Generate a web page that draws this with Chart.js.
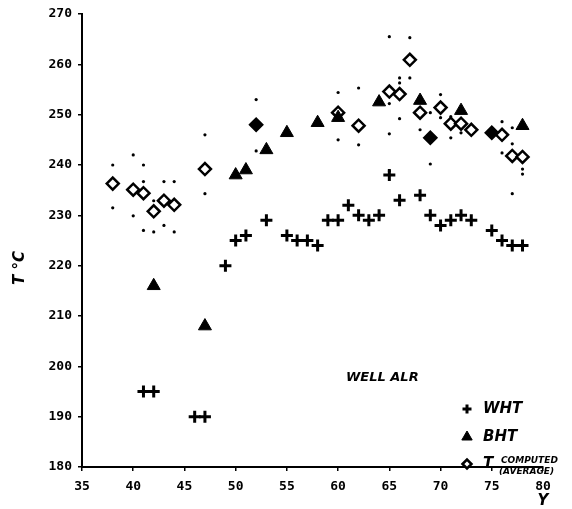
<!DOCTYPE html>
<html>
<head>
<meta charset="utf-8">
<script src="https://cdn.jsdelivr.net/npm/chart.js@4/dist/chart.umd.min.js"></script>
<style>
  body { margin: 0; background: #fff; }
  #wrap { width: 572px; height: 509px; }
</style>
</head>
<body>
<div id="wrap"><canvas id="chart" width="572" height="509"></canvas></div>
<script>
// well ALR temperatures vs year
const whtYear = [41, 42, 46, 47, 49, 50, 51, 53, 55, 56, 57, 58, 59, 60, 61, 62, 63, 64, 65, 66, 68, 69, 70, 71, 72, 73, 75, 76, 77, 78];
const whtTemp = [195, 195, 190, 190, 220, 225, 226, 229, 226, 225, 225, 224, 229, 229, 232, 230, 229, 230, 238, 233, 234, 230, 228, 229, 230, 229, 227, 225, 224, 224];

const bhtYear = [42, 47, 50, 51, 53, 55, 58, 60, 64, 68, 72, 78];
const bhtTemp = [216, 208, 238, 239, 243, 246.4, 248.4, 249.4, 252.5, 252.8, 250.8, 247.8];

const compYear = [38, 40, 41, 42, 43, 44, 47, 52, 60, 62, 65, 66, 67, 68, 69, 70, 71, 72, 73, 75, 76, 77, 78];
const compTemp = [236.3, 235.1, 234.4, 230.8, 232.9, 232.1, 239.2, 248, 250.4, 247.8, 254.6, 254.1, 260.9, 250.4, 245.4, 251.4, 248.2, 248.2, 247, 246.4, 246, 241.8, 241.6];

// small dots: spread of the computed values
const rangeYear = [38, 38, 40, 40, 41, 41, 41, 42, 42, 43, 43, 44, 44, 47, 47, 52, 52, 60, 60, 62, 62,
  65, 65, 65, 65, 66, 66, 66, 67, 67, 68, 69, 69, 70, 70, 71, 71, 72, 76, 76, 77, 77, 77, 78, 78];
const rangeTemp = [240, 231.5, 242, 229.9, 240, 236.7, 227, 232.9, 226.7, 236.7, 228, 236.7, 226.7, 246, 234.3, 253, 242.8, 254.4, 245, 255.3, 244,
  265.5, 252.2, 246.2, 238.8, 257.3, 256.3, 249.2, 265.3, 257.3, 247, 250.4, 240.2, 254, 249.4, 249.6, 245.4, 246.4, 248.6, 242.4, 247.4, 244.2, 234.3, 239.2, 238.2];

const darkCompYears = [52, 69, 75];

const yTicks = [180, 190, 200, 210, 220, 230, 240, 250, 260, 270];
const xTicks = [35, 40, 45, 50, 55, 60, 65, 70, 75, 80];

const pts = (xs, ys) => xs.map((x, i) => ({ x: x, y: ys[i] }));
const tickFont = { family: "'DejaVu Sans Mono', monospace", size: 13, weight: 'bold' };

const labelsPlugin = {
  id: 'labels',
  afterDraw(chart) {
    const ctx = chart.ctx;
    ctx.save();
    ctx.fillStyle = '#000';
    ctx.strokeStyle = '#000';
    ctx.textBaseline = 'middle';

    // axis titles
    ctx.font = "italic bold 15px 'DejaVu Sans'";
    ctx.save();
    ctx.translate(20, 268);
    ctx.rotate(-Math.PI / 2);
    ctx.textAlign = 'center';
    ctx.fillText('T °C', 0, 0);
    ctx.restore();
    ctx.textAlign = 'center';
    ctx.fillText('Y', 543, 501);

    // legend
    ctx.textAlign = 'left';
    ctx.font = "italic bold 13px 'DejaVu Sans'";
    ctx.fillText('WELL ALR', 346, 378);
    const rows = [
      { ds: 0, y: 409, text: 'WHT', fill: '#000' },
      { ds: 1, y: 437, text: 'BHT', fill: '#000' },
      { ds: 2, y: 464, text: 'T', fill: '#fff' }
    ];
    rows.forEach(r => {
      const d = chart.data.datasets[r.ds];
      ctx.fillStyle = r.fill;
      ctx.strokeStyle = '#000';
      ctx.lineWidth = d.borderWidth;
      Chart.helpers.drawPoint(ctx, { pointStyle: d.pointStyle, radius: d.pointRadius - 1.5, borderWidth: d.borderWidth, rotation: 0 }, 467, r.y);
      ctx.fillStyle = '#000';
      ctx.font = "italic bold 15px 'DejaVu Sans'";
      ctx.fillText(r.text, 483, r.y);
    });
    ctx.font = "italic bold 9px 'DejaVu Sans'";
    ctx.fillText('COMPUTED', 501, 461);
    ctx.fillText('(AVERAGE)', 499, 472);
    ctx.restore();
  }
};

new Chart(document.getElementById('chart'), {
  type: 'scatter',
  data: {
    datasets: [
      {
        label: 'WHT',
        data: pts(whtYear, whtTemp),
        pointStyle: 'cross',
        pointRadius: 6,
        borderWidth: 3,
        borderColor: '#000',
        backgroundColor: '#000'
      },
      {
        label: 'BHT',
        data: pts(bhtYear, bhtTemp),
        pointStyle: 'triangle',
        pointRadius: 7.5,
        borderWidth: 1,
        borderColor: '#000',
        backgroundColor: '#000'
      },
      {
        label: 'T computed (average)',
        data: pts(compYear, compTemp),
        pointStyle: 'rectRot',
        pointRadius: 6,
        borderWidth: 2.5,
        borderColor: '#000',
        backgroundColor: ctx => (ctx.raw && darkCompYears.includes(ctx.raw.x)) ? '#000' : '#fff'
      },
      {
        label: 'range',
        data: pts(rangeYear, rangeTemp),
        pointStyle: 'circle',
        pointRadius: 1.6,
        borderWidth: 0,
        backgroundColor: '#000'
      }
    ]
  },
  options: {
    responsive: false,
    animation: false,
    layout: { padding: { left: 0, top: 14, right: 29, bottom: 0 } },
    plugins: {
      legend: { display: false },
      tooltip: { enabled: false }
    },
    scales: {
      x: {
        type: 'linear',
        min: 35,
        max: 80,
        afterBuildTicks: s => { s.ticks = xTicks.map(v => ({ value: v })); },
        afterFit: s => { s.height = 42; },
        border: { display: true, color: '#000', width: 2 },
        grid: { drawOnChartArea: false, drawTicks: true, tickLength: 4, color: '#000', lineWidth: 1.5 },
        ticks: { color: '#000', font: tickFont, padding: 8 }
      },
      y: {
        type: 'linear',
        min: 180,
        max: 270,
        afterBuildTicks: s => { s.ticks = yTicks.map(v => ({ value: v })); },
        afterFit: s => { s.width = 82; },
        border: { display: true, color: '#000', width: 2 },
        grid: { drawOnChartArea: false, drawTicks: true, tickLength: 4, color: '#000', lineWidth: 1.5 },
        ticks: { color: '#000', font: tickFont, padding: 6 }
      }
    }
  },
  plugins: [labelsPlugin]
});
</script>
</body>
</html>
